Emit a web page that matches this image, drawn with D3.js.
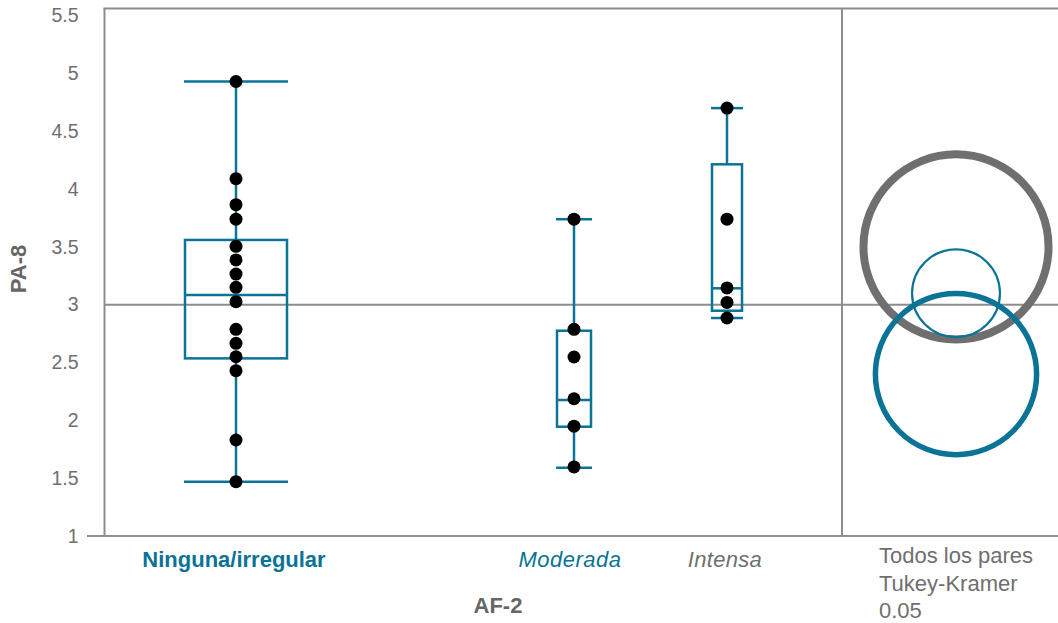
<!DOCTYPE html>
<html><head><meta charset="utf-8">
<script src="https://cdn.jsdelivr.net/npm/d3@7/dist/d3.min.js"></script>
<style>html,body{margin:0;padding:0;background:#fff;}svg{display:block;font-family:"Liberation Sans",Arial,sans-serif;}</style>
</head><body>
<svg id="chart" width="1058" height="623"></svg>
<script>
// ---- data ----
const categories = ["Ninguna/irregular", "Moderada", "Intensa"];
const points = [
  [4.93, 4.09, 3.865, 3.74, 3.505, 3.387, 3.265, 3.15, 3.026, 2.787, 2.666, 2.55, 2.43, 1.83, 1.47],
  [3.74, 2.787, 2.548, 2.187, 1.95, 1.597],
  [4.70, 3.74, 3.145, 3.02, 2.885]
];
const whiskerLow  = [1.47, 1.59, 2.885];
const quartile1   = [2.536, 1.945, 2.948];
const medians     = [3.084, 2.176, 3.142];
const quartile3   = [3.56, 2.775, 4.214];
const whiskerHigh = [4.93, 3.74, 4.70];
const circleMeans = [3.099, 2.40, 3.50];
const circleRadii = [0.38, 0.697, 0.80];
const referenceValue = 3;
const yTicks = [1, 1.5, 2, 2.5, 3, 3.5, 4, 4.5, 5, 5.5];
const yTickLabels = ["1", "1.5", "2", "2.5", "3", "3.5", "4", "4.5", "5", "5.5"];
const yTitle = "PA-8";
const xTitle = "AF-2";
const compareLabel = ["Todos los pares", "Tukey-Kramer", "0.05"];

// ---- layout / style ----
const W = 1058, H = 623;
const plotLeft = 104.5, plotRight = 842, panelRight = 1058, plotBottom = 536;
const blue = "#0b7396", grey = "#6f6f6f", frame = "#8d8d8d";
const boxWidths = [102, 34, 30];
const labelStyles = [
  {color: blue, weight: "bold", style: "normal", spacing: 0},
  {color: blue, weight: "normal", style: "italic", spacing: 0.5},
  {color: grey, weight: "normal", style: "italic", spacing: 0.3}
];
const circleStyles = [
  {color: blue, width: 2.2},
  {color: blue, width: 5.5},
  {color: grey, width: 8}
];

const svg = d3.select("#chart");
const y = d3.scaleLinear().domain([1, 5.5]).range([plotBottom, 15.6]);
const x = d3.scaleOrdinal().domain(categories).range([236, 574, 727]);
const plotTop = y(5.5) - 7;
const circleX = 956;

// frame
svg.append("line").attr("x1", plotLeft).attr("x2", plotLeft).attr("y1", plotTop).attr("y2", plotBottom)
  .attr("stroke", frame).attr("stroke-width", 2);
svg.append("line").attr("x1", plotLeft - 1).attr("x2", panelRight).attr("y1", plotTop).attr("y2", plotTop)
  .attr("stroke", frame).attr("stroke-width", 2);
svg.append("line").attr("x1", plotRight).attr("x2", plotRight).attr("y1", plotTop).attr("y2", plotBottom)
  .attr("stroke", frame).attr("stroke-width", 2);

// y axis
const yAxis = d3.axisLeft(y).tickValues(yTicks).tickFormat((d, i) => yTickLabels[i]).tickSize(0).tickPadding(26);
const yg = svg.append("g").attr("transform", `translate(${plotLeft},0)`).call(yAxis);
yg.select(".domain").remove();
yg.selectAll("text").attr("fill", grey).style("font-size", "19.5px").style("font-family", "Liberation Sans, Arial, sans-serif");

// bottom axis line (extends left)
svg.append("line").attr("x1", 87).attr("x2", panelRight).attr("y1", plotBottom).attr("y2", plotBottom)
  .attr("stroke", frame).attr("stroke-width", 2);

// reference line
svg.append("line").attr("x1", plotLeft).attr("x2", panelRight).attr("y1", y(referenceValue)).attr("y2", y(referenceValue))
  .attr("stroke", frame).attr("stroke-width", 2);

// boxes
const g = svg.append("g");
categories.forEach((c, i) => {
  const cx = x(c), w = boxWidths[i];
  const s = {stroke: blue, "stroke-width": 2.5, fill: "none"};
  const add = (tag) => { const e = g.append(tag); Object.entries(s).forEach(([k, v]) => e.attr(k, v)); return e; };
  add("line").attr("x1", cx).attr("x2", cx).attr("y1", y(whiskerHigh[i])).attr("y2", y(quartile3[i]));
  add("line").attr("x1", cx).attr("x2", cx).attr("y1", y(quartile1[i])).attr("y2", y(whiskerLow[i]));
  add("line").attr("x1", cx - w / 2 - 1).attr("x2", cx + w / 2 + 1).attr("y1", y(whiskerHigh[i])).attr("y2", y(whiskerHigh[i]));
  add("line").attr("x1", cx - w / 2 - 1).attr("x2", cx + w / 2 + 1).attr("y1", y(whiskerLow[i])).attr("y2", y(whiskerLow[i]));
  add("rect").attr("x", cx - w / 2).attr("width", w).attr("y", y(quartile3[i])).attr("height", y(quartile1[i]) - y(quartile3[i]));
  add("line").attr("x1", cx - w / 2).attr("x2", cx + w / 2).attr("y1", y(medians[i])).attr("y2", y(medians[i]));
});

// points
categories.forEach((c, i) => {
  g.selectAll(null).data(points[i]).enter().append("circle")
    .attr("cx", x(c)).attr("cy", d => y(d)).attr("r", 6.5).attr("fill", "#000");
});

// comparison circles (draw large ones first)
const order = [2, 0, 1];
order.forEach(i => {
  const r = y(circleMeans[i] - circleRadii[i]) - y(circleMeans[i]);
  svg.append("circle").attr("cx", circleX).attr("cy", y(circleMeans[i])).attr("r", r)
    .attr("fill", "none").attr("stroke", circleStyles[i].color).attr("stroke-width", circleStyles[i].width);
});

// category labels
categories.forEach((c, i) => {
  svg.append("text").attr("x", x(c) - (i === 1 ? 4 : 2)).attr("y", 567).attr("text-anchor", "middle")
    .attr("fill", labelStyles[i].color).style("font-weight", labelStyles[i].weight)
    .style("font-style", labelStyles[i].style).style("letter-spacing", labelStyles[i].spacing + "px")
    .style("font-size", "22px").text(c);
});

// axis titles
svg.append("text").attr("x", 498).attr("y", 613).attr("text-anchor", "middle")
  .attr("fill", "#666").style("font-weight", "bold").style("font-size", "22px").text(xTitle);
svg.append("text").attr("transform", "translate(26,269) rotate(-90)").attr("text-anchor", "middle")
  .attr("fill", "#666").style("font-weight", "bold").style("font-size", "22px").text(yTitle);

// comparison label
compareLabel.forEach((t, i) => {
  svg.append("text").attr("x", 879).attr("y", 563 + i * 27.5).attr("fill", grey)
    .style("font-size", "22px").text(t);
});
</script>
</body></html>
